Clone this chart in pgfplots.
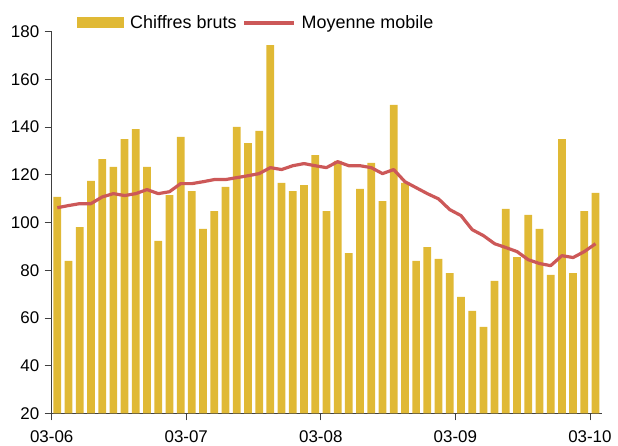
\documentclass[border=0pt]{standalone}
\usepackage{fontspec}
\setmainfont{Liberation Sans}
\usepackage{pgfplots}
\pgfplotsset{compat=1.18}
\definecolor{bargold}{RGB}{224,185,53}
\definecolor{mared}{RGB}{204,88,88}
\definecolor{axgray}{RGB}{64,64,64}
\begin{document}
\begin{tikzpicture}
\path[use as bounding box] (-51.7bp,-32.7bp) rectangle (566.3bp,413.3bp);
\begin{axis}[
  at={(0,0)}, anchor=south west,
  width=550bp, height=381.6bp, scale only axis,
  xmin=0, xmax=49.05, ymin=20, ymax=180,
  xtick={0,12,24,36,48}, xticklabels={03-06,03-07,03-08,03-09,03-10},
  ytick={20,40,...,180},
  axis x line*=bottom, axis y line*=left,
  axis line style={axgray, line width=0.8pt},
  tick style={axgray, line width=0.8pt}, tick align=outside,
  major tick length=7bp,
  /pgf/number format/assume math mode=true,
  tick label style={font=\fontsize{17}{17}\selectfont, black},
  yticklabel style={xshift=-2bp},
  xticklabel style={yshift=-7bp},
  legend style={draw=none, fill=none, at={(0.046,1.023)}, anchor=west,
    font=\fontsize{18}{18}\selectfont, inner sep=0pt,
    /tikz/every odd column/.append style={column sep=4bp},
    /tikz/every even column/.append style={column sep=4bp}},
  legend columns=2, legend cell align=left,
]
\addplot[ybar, bar width=0.69, fill=bargold, draw=none,
  legend image code/.code={\fill[bargold] (0bp,-5.5bp) rectangle (47bp,5.5bp);}]
coordinates {
(0.5,110.7) (1.5,83.9) (2.5,98.1) (3.5,117.4) (4.5,126.6) (5.5,123.3) (6.5,135.0) (7.5,139.2) (8.5,123.3) (9.5,92.3)
(10.5,111.5) (11.5,135.9) (12.5,113.2) (13.5,97.3) (14.5,104.8) (15.5,114.9) (16.5,140.1) (17.5,133.3) (18.5,138.4) (19.5,174.4)
(20.5,116.6) (21.5,113.2) (22.5,115.7) (23.5,128.3) (24.5,104.8) (25.5,125.8) (26.5,87.2) (27.5,114.1) (28.5,125.0) (29.5,109.0)
(30.5,149.3) (31.5,116.6) (32.5,83.9) (33.5,89.7) (34.5,84.7) (35.5,78.8) (36.5,68.8) (37.5,62.9) (38.5,56.2) (39.5,75.5)
(40.5,105.7) (41.5,85.5) (42.5,103.2) (43.5,97.3) (44.5,78.0) (45.5,135.0) (46.5,78.8) (47.5,104.8) (48.5,112.4)
};
\addlegendentry{Chiffres bruts}
\addplot[mared, line width=3.2bp, no markers, line join=round,
  legend image code/.code={\draw[mared, line width=3.2bp] (0bp,0bp) -- (50bp,0bp);}]
coordinates {
(0.5,106.2) (1.5,107.1) (2.5,107.9) (3.5,107.9) (4.5,110.7) (5.5,112.1) (6.5,111.3) (7.5,112.1) (8.5,113.8) (9.5,112.1)
(10.5,112.9) (11.5,116.3) (12.5,116.3) (13.5,117.1) (14.5,118.0) (15.5,118.0) (16.5,118.8) (17.5,119.6) (18.5,120.5) (19.5,123.0)
(20.5,122.2) (21.5,123.8) (22.5,124.7) (23.5,123.8) (24.5,123.0) (25.5,125.5) (26.5,123.8) (27.5,123.8) (28.5,123.0) (29.5,120.5)
(30.5,122.2) (31.5,117.1) (32.5,114.6) (33.5,112.1) (34.5,109.9) (35.5,105.4) (36.5,102.9) (37.5,97.0) (38.5,94.5) (39.5,91.1)
(40.5,89.5) (41.5,87.8) (42.5,84.4) (43.5,82.8) (44.5,81.9) (45.5,86.1) (46.5,85.3) (47.5,87.8) (48.5,91.1)
};
\addlegendentry{Moyenne mobile}
\end{axis}
\end{tikzpicture}
\end{document}
